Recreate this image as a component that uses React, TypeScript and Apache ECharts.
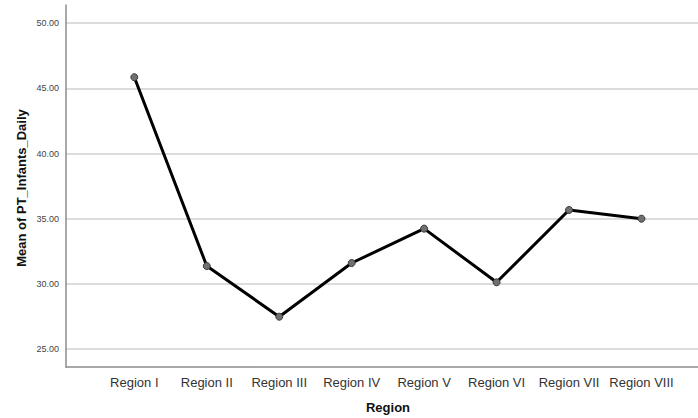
import React, { useEffect, useRef } from "react";
import * as echarts from "echarts";

const categories = ["Region I", "Region II", "Region III", "Region IV", "Region V", "Region VI", "Region VII", "Region VIII"];
const meanValues = [45.86, 31.37, 27.48, 31.6, 34.24, 30.12, 35.67, 35.0];
const yTicks = [25, 30, 35, 40, 45, 50];
const xTicks = [0, 1, 2, 3, 4, 5, 6, 7];

export default function App() {
  const ref = useRef<HTMLDivElement>(null);
  useEffect(() => {
    if (!ref.current) return;
    const chart = echarts.init(ref.current, null, { renderer: "svg" });
    const font = "'Liberation Sans', Arial, sans-serif";
    chart.setOption({
      animation: false,
      backgroundColor: "#ffffff",
      grid: { left: 66, right: 0, top: 5, bottom: 51, containLabel: false },
      xAxis: {
        type: "value",
        min: -0.943,
        max: 7.78,
        axisLine: { show: true, onZero: false, lineStyle: { color: "#8c8c8c", width: 1.5 } },
        axisTick: { show: false, customValues: xTicks },
        splitLine: { show: false },
        axisLabel: {
          customValues: xTicks,
          formatter: (v: number) => categories[Math.round(v)] ?? "",
          color: "#333333",
          fontSize: 13,
          fontFamily: font,
          margin: 9,
        },
      },
      yAxis: {
        type: "value",
        min: 23.62,
        max: 51.4,
        axisLine: { show: true, onZero: false, lineStyle: { color: "#8c8c8c", width: 1.5 } },
        axisTick: { show: false, customValues: yTicks },
        splitLine: { show: true, lineStyle: { color: "#d0d0d0", width: 1.5 } },
        axisLabel: {
          customValues: yTicks,
          formatter: (v: number) => v.toFixed(2),
          color: "#444444",
          fontSize: 9,
          fontFamily: font,
          margin: 7,
        },
      },
      graphic: [
        {
          type: "text",
          x: 21,
          y: 188,
          rotation: Math.PI / 2,
          style: {
            text: "Mean of PT_Infants_Daily",
            font: `bold 13px ${font}`,
            fill: "#111111",
            textAlign: "center",
            textVerticalAlign: "middle",
          },
        },
        {
          type: "text",
          x: 388,
          y: 407,
          style: {
            text: "Region",
            font: `bold 13px ${font}`,
            fill: "#111111",
            textAlign: "center",
            textVerticalAlign: "middle",
          },
        },
      ],
      series: [
        {
          type: "line",
          data: meanValues.map((v, i) => [i, v]),
          symbol: "circle",
          symbolSize: 7,
          lineStyle: { color: "#000000", width: 3 },
          itemStyle: { color: "#707070", borderColor: "#3a3a3a", borderWidth: 1 },
          z: 3,
        },
      ],
    });
    return () => chart.dispose();
  }, []);
  return <div ref={ref} style={{ position: "absolute", left: 0, top: 0, width: 698, height: 418 }} />;
}
